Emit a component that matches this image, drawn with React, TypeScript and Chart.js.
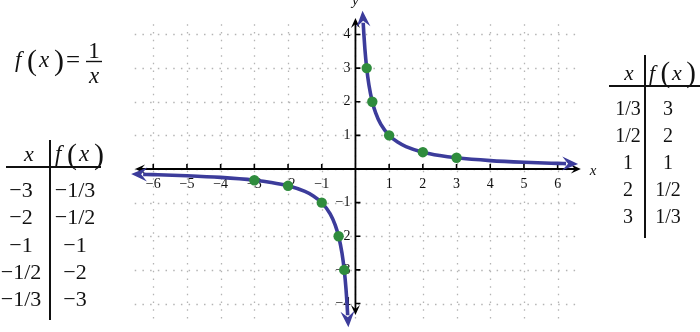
import { useEffect, useRef } from "react";
import { Chart, registerables } from "chart.js";

Chart.register(...registerables);

// Curve samples of f(x) = 1/x (literal values)
const rightX = [0.23, 0.25, 0.28, 0.33, 0.4, 0.5, 0.6, 0.75, 1, 1.25, 1.5, 2, 2.5, 3, 4, 5, 6, 6.25];
const rightY = [4.348, 4, 3.571, 3.03, 2.5, 2, 1.667, 1.333, 1, 0.8, 0.667, 0.5, 0.4, 0.333, 0.25, 0.2, 0.167, 0.16];
const leftX = [-6.3, -6, -5, -4, -3, -2.5, -2, -1.5, -1.25, -1, -0.75, -0.6, -0.5, -0.4, -0.33, -0.28, -0.25, -0.23];
const leftY = [-0.159, -0.167, -0.2, -0.25, -0.333, -0.4, -0.5, -0.667, -0.8, -1, -1.333, -1.667, -2, -2.5, -3.03, -3.571, -4, -4.348];

// Marked points
const pointX = [0.3333, 0.5, 1, 2, 3, -3, -2, -1, -0.5, -0.3333];
const pointY = [3, 2, 1, 0.5, 0.3333, -0.3333, -0.5, -1, -2, -3];

// Axis ticks / grid
const xTicks = [-6, -5, -4, -3, -2, -1, 1, 2, 3, 4, 5, 6];
const yTicks = [-4, -3, -2, -1, 1, 2, 3, 4];
const gridXs = [-6, -5, -4, -3, -2, -1, 0, 1, 2, 3, 4, 5, 6];
const gridYs = [-4, -3, -2, -1, 0, 1, 2, 3, 4];

// Tables
const leftTableX = ["−3", "−2", "−1", "−1/2", "−1/3"];
const leftTableF = ["−1/3", "−1/2", "−1", "−2", "−3"];
const rightTableX = ["1/3", "1/2", "1", "2", "3"];
const rightTableF = ["3", "2", "1", "1/2", "1/3"];

const BLUE = "#3c3c9b";
const GREEN = "#2f8c3d";
const SERIF = '"Liberation Serif", "DejaVu Serif", serif';

function arrowHead(
  ctx: CanvasRenderingContext2D,
  ex: number, ey: number, dx: number, dy: number,
  ahead: number, len: number, half: number, notch: number, color: string
) {
  const m = Math.hypot(dx, dy) || 1;
  const ux = dx / m, uy = dy / m;
  const px = -uy, py = ux;
  const tx = ex + ux * ahead, ty = ey + uy * ahead;
  const bx = tx - ux * len, by = ty - uy * len;
  const nx = tx - ux * notch, ny = ty - uy * notch;
  ctx.beginPath();
  ctx.moveTo(tx, ty);
  ctx.lineTo(bx + px * half, by + py * half);
  ctx.lineTo(nx, ny);
  ctx.lineTo(bx - px * half, by - py * half);
  ctx.closePath();
  ctx.fillStyle = color;
  ctx.fill();
}

// f(x) with tall parentheses; glyph offsets scaled by size
function drawFx(ctx: CanvasRenderingContext2D, x: number, base: number, size: number) {
  const k = size / 23;
  ctx.textAlign = "left";
  ctx.textBaseline = "alphabetic";
  ctx.fillStyle = "#111";
  ctx.font = `italic ${size}px ${SERIF}`;
  ctx.fillText("f", x, base);
  ctx.fillText("x", x + 24 * k, base);
  ctx.font = `${Math.round(size * 1.3)}px ${SERIF}`;
  ctx.fillText("(", x + 12 * k, base + 2.5 * k);
  ctx.fillText(")", x + 39 * k, base + 2.5 * k);
}

const backgroundPlugin = {
  id: "mathBackground",
  beforeDatasetsDraw(chart: any) {
    const ctx: CanvasRenderingContext2D = chart.ctx;
    const xs = chart.scales.x, ys = chart.scales.y;
    const X = (v: number) => xs.getPixelForValue(v);
    const Y = (v: number) => ys.getPixelForValue(v);
    ctx.save();
    // dotted grid
    ctx.strokeStyle = "#b4b4b4";
    ctx.lineWidth = 1.3;
    ctx.setLineDash([1.5, 6.2]);
    for (const g of gridXs) {
      const px = Math.round(X(g)) + 0.5;
      ctx.beginPath();
      ctx.moveTo(px, Y(4.3));
      ctx.lineTo(px, Y(-4.45));
      ctx.stroke();
    }
    for (const g of gridYs) {
      const py = Math.round(Y(g)) + 0.5;
      ctx.beginPath();
      ctx.moveTo(X(-6.55), py);
      ctx.lineTo(X(6.55), py);
      ctx.stroke();
    }
    ctx.setLineDash([]);
    // axes
    const x0 = X(0), y0 = Y(0);
    ctx.strokeStyle = "#000";
    ctx.lineWidth = 1.8;
    ctx.beginPath();
    ctx.moveTo(X(-6.45), y0);
    ctx.lineTo(X(6.6), y0);
    ctx.moveTo(x0, Y(4.4));
    ctx.lineTo(x0, Y(-4.25));
    ctx.stroke();
    arrowHead(ctx, X(6.6), y0, 1, 0, 3, 10, 4.5, 6, "#000");
    arrowHead(ctx, X(-6.45), y0, -1, 0, 3, 10, 4.5, 6, "#000");
    arrowHead(ctx, x0, Y(4.4), 0, -1, 3, 10, 4.5, 6, "#000");
    arrowHead(ctx, x0, Y(-4.25), 0, 1, 3, 10, 4.5, 6, "#000");
    // ticks
    ctx.lineWidth = 1.6;
    ctx.beginPath();
    for (const t of xTicks) {
      ctx.moveTo(X(t), y0);
      ctx.lineTo(X(t), y0 - 5);
    }
    for (const t of yTicks) {
      ctx.moveTo(x0, Y(t));
      ctx.lineTo(x0 + 5, Y(t));
    }
    ctx.stroke();
    // tick labels
    ctx.fillStyle = "#111";
    ctx.font = `14px ${SERIF}`;
    ctx.textAlign = "center";
    ctx.textBaseline = "alphabetic";
    for (const t of xTicks) {
      ctx.fillText(t < 0 ? `−${-t}` : `${t}`, X(t), y0 + 19);
    }
    ctx.textAlign = "right";
    ctx.textBaseline = "middle";
    for (const t of yTicks) {
      ctx.fillText(t < 0 ? `−${-t}` : `${t}`, x0 - 5, Y(t));
    }
    // axis names
    ctx.font = `italic 15px ${SERIF}`;
    ctx.textAlign = "center";
    ctx.textBaseline = "middle";
    ctx.fillText("x", 593, y0 + 2);
    ctx.textBaseline = "alphabetic";
    ctx.fillText("y", x0, 5);
    ctx.restore();
  },
  afterDatasetsDraw(chart: any) {
    const ctx: CanvasRenderingContext2D = chart.ctx;
    ctx.save();
    const branches = [1, 2];
    for (const i of branches) {
      const pts = chart.getDatasetMeta(i).data;
      const a = pts[0], b = pts[1];
      arrowHead(ctx, a.x, a.y, a.x - b.x, a.y - b.y, 12, 16, 7, 10, BLUE);
      const n = pts.length;
      const c = pts[n - 1], d = pts[n - 2];
      arrowHead(ctx, c.x, c.y, c.x - d.x, c.y - d.y, 12, 16, 7, 10, BLUE);
    }
    ctx.restore();
  },
  afterDraw(chart: any) {
    const ctx: CanvasRenderingContext2D = chart.ctx;
    ctx.save();
    // Formula f(x) = 1/x
    drawFx(ctx, 15, 67, 23);
    ctx.font = `25px ${SERIF}`;
    ctx.textAlign = "left";
    ctx.fillText("=", 66, 68);
    ctx.strokeStyle = "#111";
    ctx.lineWidth = 1.4;
    ctx.beginPath();
    ctx.moveTo(86, 61.5);
    ctx.lineTo(102, 61.5);
    ctx.stroke();
    ctx.font = `23px ${SERIF}`;
    ctx.textAlign = "center";
    ctx.fillText("1", 94, 58);
    ctx.font = `italic 23px ${SERIF}`;
    ctx.fillText("x", 94, 83);

    // Left table
    ctx.lineWidth = 2;
    ctx.strokeStyle = "#111";
    ctx.beginPath();
    ctx.moveTo(50, 140);
    ctx.lineTo(50, 320);
    ctx.moveTo(6, 167);
    ctx.lineTo(101, 167);
    ctx.stroke();
    ctx.font = `italic 22px ${SERIF}`;
    ctx.textAlign = "center";
    ctx.fillText("x", 29, 161);
    drawFx(ctx, 55, 161, 23);
    ctx.font = `22px ${SERIF}`;
    ctx.textAlign = "center";
    leftTableX.forEach((s, i) => {
      const base = 197 + i * 27.3;
      ctx.fillText(s, 21, base);
      ctx.fillText(leftTableF[i], 75, base);
    });

    // Right table
    ctx.beginPath();
    ctx.moveTo(645, 55);
    ctx.lineTo(645, 238);
    ctx.moveTo(609, 86);
    ctx.lineTo(700, 86);
    ctx.stroke();
    ctx.font = `italic 21px ${SERIF}`;
    ctx.textAlign = "center";
    ctx.fillText("x", 629, 80);
    drawFx(ctx, 649, 80, 22);
    ctx.font = `20px ${SERIF}`;
    ctx.textAlign = "center";
    rightTableX.forEach((s, i) => {
      const base = 115 + i * 27;
      ctx.fillText(s, 628, base);
      ctx.fillText(rightTableF[i], 668, base);
    });
    ctx.restore();
  },
};

export default function App() {
  const ref = useRef<HTMLCanvasElement>(null);
  useEffect(() => {
    document.body.style.margin = "0";
    const canvas = ref.current!;
    const chart = new Chart(canvas, {
      type: "scatter",
      data: {
        datasets: [
          {
            label: "points",
            data: pointX.map((x, i) => ({ x, y: pointY[i] })),
            pointRadius: 5.2,
            pointBackgroundColor: GREEN,
            pointBorderColor: GREEN,
            pointBorderWidth: 0,
            showLine: false,
          },
          {
            label: "right",
            data: rightX.map((x, i) => ({ x, y: rightY[i] })),
            showLine: true,
            borderColor: BLUE,
            borderWidth: 3.6,
            pointRadius: 0,
            cubicInterpolationMode: "monotone",
            clip: false as any,
          },
          {
            label: "left",
            data: leftX.map((x, i) => ({ x, y: leftY[i] })),
            showLine: true,
            borderColor: BLUE,
            borderWidth: 3.6,
            pointRadius: 0,
            cubicInterpolationMode: "monotone",
            clip: false as any,
          },
        ],
      },
      options: {
        responsive: false,
        animation: false,
        devicePixelRatio: 1,
        layout: { padding: { left: 136.4, right: 125.5, top: 21, bottom: 15 } },
        plugins: { legend: { display: false }, tooltip: { enabled: false }, title: { display: false } },
        events: [],
        scales: {
          x: { type: "linear", min: -6.5, max: 6.5, display: false },
          y: { type: "linear", min: -4.4, max: 4.4, display: false },
        },
      },
      plugins: [backgroundPlugin],
    });
    return () => chart.destroy();
  }, []);
  return (
    <div style={{ width: 700, height: 332 }}>
      <canvas ref={ref} width={700} height={332} style={{ display: "block" }} />
    </div>
  );
}
